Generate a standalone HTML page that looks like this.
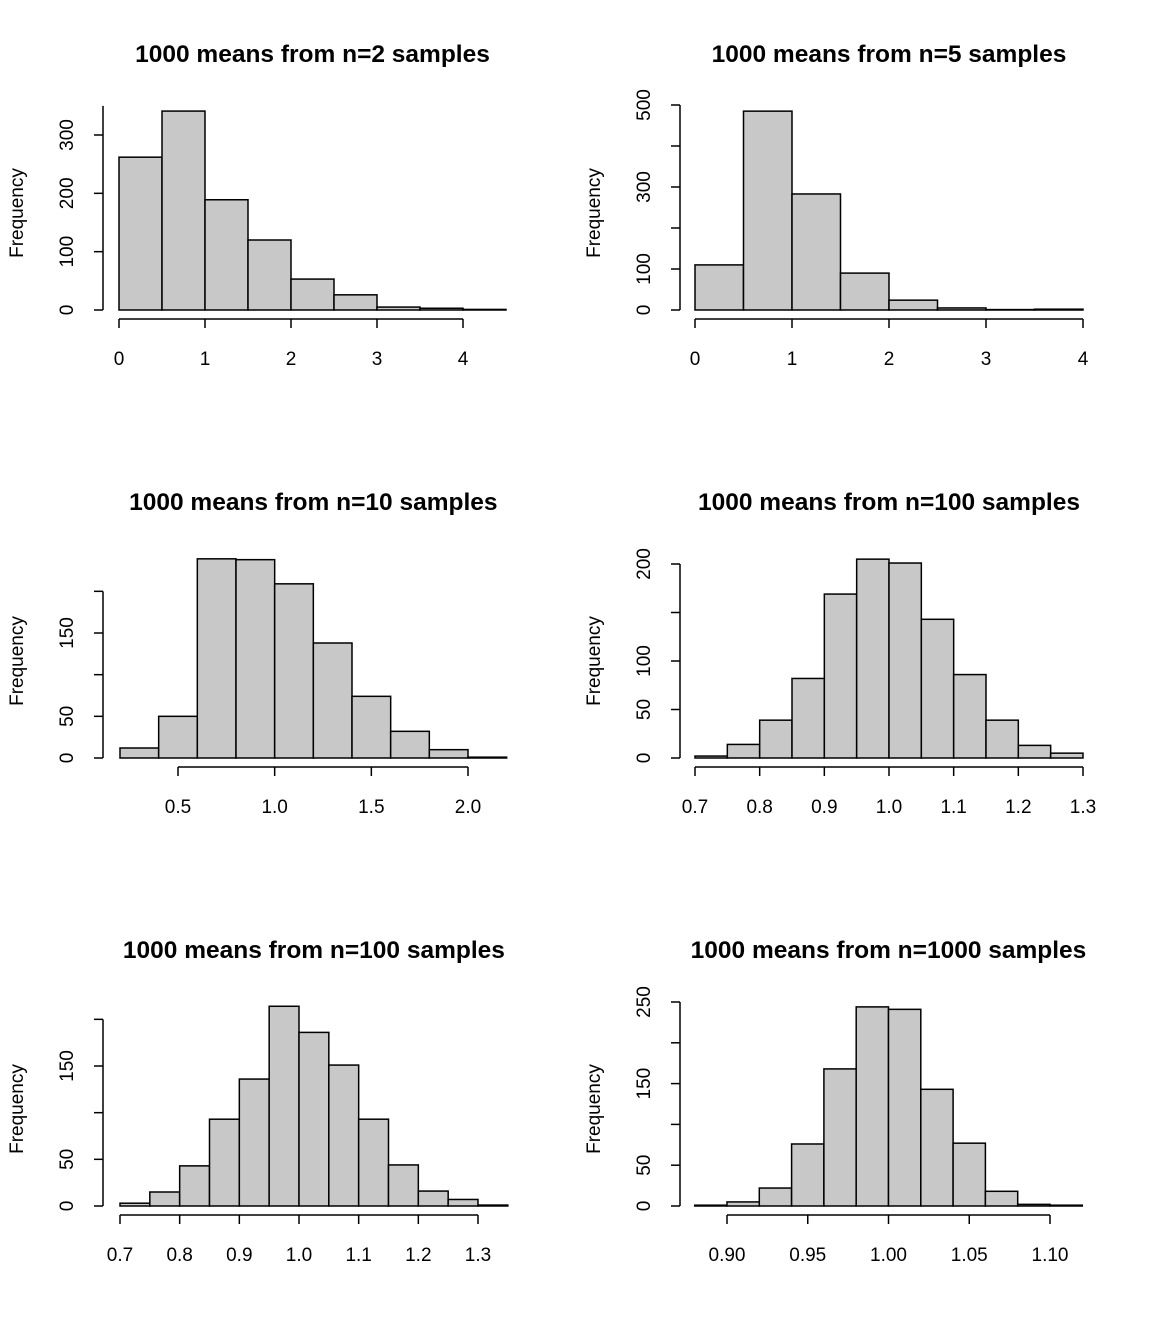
<!DOCTYPE html>
<html><head><meta charset="utf-8"><style>
body{margin:0;background:#fff}
svg{display:block}
text{font-family:"Liberation Sans",Arial,sans-serif;fill:#000}
</style></head><body>
<svg id="c" width="1152" height="1344"></svg>
<script>
// ---- data ----
const titles=["1000 means from n=2 samples","1000 means from n=5 samples","1000 means from n=10 samples","1000 means from n=100 samples","1000 means from n=100 samples","1000 means from n=1000 samples"];
const breaks1=[0,0.5,1,1.5,2,2.5,3,3.5,4,4.5];
const counts1=[262,341,189,120,53,26,5,3,1];
const breaks2=[0,0.5,1,1.5,2,2.5,3,3.5,4];
const counts2=[110,485,283,90,24,5,1,2];
const breaks3=[0.2,0.4,0.6,0.8,1.0,1.2,1.4,1.6,1.8,2.0,2.2];
const counts3=[12,50,239,238,209,138,74,32,10,1];
const breaks4=[0.7,0.75,0.8,0.85,0.9,0.95,1.0,1.05,1.1,1.15,1.2,1.25,1.3];
const counts4=[2,14,39,82,169,205,201,143,86,39,13,5];
const breaks5=[0.7,0.75,0.8,0.85,0.9,0.95,1.0,1.05,1.1,1.15,1.2,1.25,1.3,1.35];
const counts5=[3,15,43,93,136,214,186,151,93,44,16,7,1];
const breaks6=[0.88,0.9,0.92,0.94,0.96,0.98,1.0,1.02,1.04,1.06,1.08,1.1,1.12];
const counts6=[1,5,22,76,168,244,241,143,77,18,2,1];
const xTicks=[[0,1,2,3,4],[0,1,2,3,4],[0.5,1.0,1.5,2.0],[0.7,0.8,0.9,1.0,1.1,1.2,1.3],[0.7,0.8,0.9,1.0,1.1,1.2,1.3],[0.90,0.95,1.00,1.05,1.10]];
const xTickLabels=[["0","1","2","3","4"],["0","1","2","3","4"],["0.5","1.0","1.5","2.0"],["0.7","0.8","0.9","1.0","1.1","1.2","1.3"],["0.7","0.8","0.9","1.0","1.1","1.2","1.3"],["0.90","0.95","1.00","1.05","1.10"]];
const yTicks=[[0,100,200,300],[0,100,200,300,400,500],[0,50,100,150,200],[0,50,100,150,200],[0,50,100,150,200],[0,50,100,150,200,250]];
const yTickLabels=[["0","100","200","300"],["0","100","","300","","500"],["0","50","","150",""],["0","50","100","","200"],["0","50","","150",""],["0","50","","150","","250"]];
const yMax=[350,500,200,200,200,250];
const allBreaks=[breaks1,breaks2,breaks3,breaks4,breaks5,breaks6];
const allCounts=[counts1,counts2,counts3,counts4,counts5,counts6];

// ---- layout (pixel calibration per panel) ----
const layout=[
 {xa:0,pa:119,xb:4,pb:463,base:310,ya:300,yp:135,axX:103,axY:319,ty:62},
 {xa:0,pa:695,xb:4,pb:1083,base:310,ya:500,yp:105,axX:680,axY:319,ty:62},
 {xa:0.5,pa:178,xb:2.0,pb:468,base:758,ya:150,yp:633,axX:103,axY:767,ty:510},
 {xa:0.7,pa:695,xb:1.3,pb:1083,base:758,ya:200,yp:564,axX:680,axY:767,ty:510},
 {xa:0.7,pa:120,xb:1.3,pb:478,base:1206,ya:150,yp:1066,axX:103,axY:1215,ty:958},
 {xa:0.9,pa:727,xb:1.1,pb:1050,base:1206,ya:250,yp:1002,axX:680,axY:1215,ty:958}
];
const NS="http://www.w3.org/2000/svg";
const svg=document.getElementById('c');
function mk(tag,attrs,parent){const e=document.createElementNS(NS,tag);for(const k in attrs)e.setAttribute(k,attrs[k]);(parent||svg).appendChild(e);return e;}

layout.forEach((L,i)=>{
  const g=mk('g',{});
  
  
  const sx=v=>L.pa+(v-L.xa)*(L.pb-L.pa)/(L.xb-L.xa);
  const sy=v=>L.base-v*(L.base-L.yp)/L.ya;
  const br=allBreaks[i],ct=allCounts[i];
  const plotL=sx(br[0]),plotR=sx(br[br.length-1]);
  const t=mk('text',{x:(plotL+plotR)/2,y:L.ty,'text-anchor':'middle','font-size':'24.5','font-weight':'bold'},g);
  t.textContent=titles[i];
  
  
  ct.forEach((c,j)=>{
    const x1=sx(br[j]),x2=sx(br[j+1]),y=sy(c);
    const r=mk('rect',{x:x1,y:y,width:x2-x1,height:L.base-y,fill:'#c8c8c8',stroke:'#000','stroke-width':'1.5'},g);
    
    
  });
  const xt=xTicks[i];
  const xa=mk('line',{x1:sx(xt[0]),x2:sx(xt[xt.length-1]),y1:L.axY,y2:L.axY,stroke:'#000','stroke-width':'1.5'},g);
  
  
  xt.forEach((v,j)=>{
    mk('line',{x1:sx(v),x2:sx(v),y1:L.axY,y2:L.axY+9,stroke:'#000','stroke-width':'1.5'},g);
    const tl=mk('text',{x:sx(v),y:L.axY+46,'text-anchor':'middle','font-size':'19'},g);
    tl.textContent=xTickLabels[i][j];
    
    
  });
  const yt=yTicks[i];
  const ya=mk('line',{x1:L.axX,x2:L.axX,y1:sy(0),y2:sy(yMax[i]),stroke:'#000','stroke-width':'1.5'},g);
  
  
  yt.forEach((v,j)=>{
    mk('line',{x1:L.axX-9,x2:L.axX,y1:sy(v),y2:sy(v),stroke:'#000','stroke-width':'1.5'},g);
    if(yTickLabels[i][j]){
      const tx=L.axX-30,ty=sy(v);
      const tl=mk('text',{x:tx,y:ty,'text-anchor':'middle','font-size':'19',transform:`rotate(-90 ${tx} ${ty})`},g);
      tl.textContent=yTickLabels[i][j];
      
      
    }
  });
  const fx=L.axX-80;
  const cy=L.base-97;
  const yl=mk('text',{x:fx,y:cy,'text-anchor':'middle','font-size':'19',transform:`rotate(-90 ${fx} ${cy})`},g);
  yl.textContent='Frequency';
  
  
});
</script>
</body></html>
